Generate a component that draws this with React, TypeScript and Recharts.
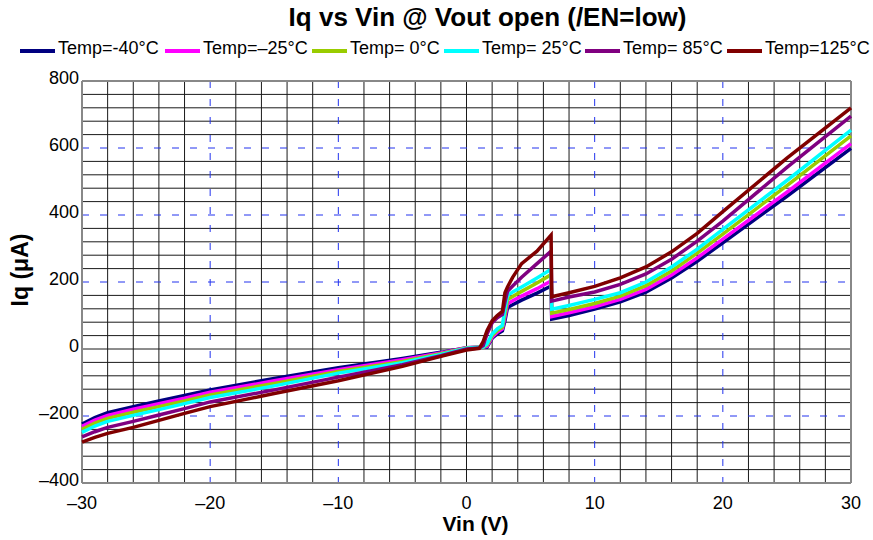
import React from "react";
import { LineChart, Line, XAxis, YAxis, CartesianGrid } from "recharts";

// Vin (V) sample points, shared by every curve
const vin = [
  -30, -29, -28, -26, -24, -22, -20, -15, -10, -5, -2, 0, 1, 1.3, 1.6, 2.0, 2.4,
  2.8, 3.0, 3.2, 3.6, 4.3, 5.5, 6.6, 6.65, 8, 10, 12, 14, 16, 18, 20, 25, 30,
];

// Iq (uA) per temperature
const iqM40 = [
  -224, -205, -190, -172, -155, -139, -122, -88, -56, -28, -10, 4, 5, 5, 6, 32, 45,
  54, 85, 124, 132, 146, 167, 188, 89, 100, 119, 141, 170, 212, 262, 317, 456, 599,
];
const iqM25 = [
  -231, -212, -198, -180, -163, -147, -129, -95, -62, -32, -12, 4, 5, 5, 8, 35, 50,
  60, 95, 135, 144, 158, 180, 203, 97, 108, 126, 148, 178, 221, 272, 328, 468, 613,
];
const iq0 = [
  -240, -221, -207, -189, -172, -155, -137, -103, -67, -37, -14, 3, 5, 5, 12, 40, 55,
  65, 105, 148, 157, 172, 197, 222, 107, 118, 136, 158, 189, 233, 286, 343, 488, 636,
];
const iq25 = [
  -249, -230, -216, -198, -181, -163, -145, -110, -72, -41, -16, 2, 5, 6, 15, 45, 60,
  70, 120, 160, 170, 185, 212, 238, 119, 130, 148, 168, 200, 245, 298, 357, 503, 653,
];
const iq85 = [
  -262, -247, -234, -216, -197, -178, -158, -122, -84, -47, -20, 0, 3, 10, 45, 78, 93,
  103, 140, 172, 188, 214, 255, 292, 143, 155, 170, 193, 224, 268, 322, 382, 542, 695,
];
const iq125 = [
  -278, -264, -252, -234, -213, -192, -172, -133, -95, -52, -22, -3, 2, 22, 55, 84, 100,
  112, 168, 185, 214, 255, 292, 340, 156, 168, 187, 212, 245, 290, 345, 410, 570, 720,
];

const xTicks = [-30, -20, -10, 0, 10, 20, 30];
const yTicks = [-400, -200, 0, 200, 400, 600, 800];

const series = [
  { key: "m40", label: "Temp=-40°C", color: "#000080", values: iqM40, left: 20 },
  { key: "m25", label: "Temp=\u201325°C", color: "#ff00ff", values: iqM25, left: 165 },
  { key: "t0", label: "Temp= 0°C", color: "#99cc00", values: iq0, left: 312 },
  { key: "t25", label: "Temp= 25°C", color: "#00ffff", values: iq25, left: 444 },
  { key: "t85", label: "Temp= 85°C", color: "#800080", values: iq85, left: 585 },
  { key: "t125", label: "Temp=125°C", color: "#800000", values: iq125, left: 727 },
];

const data = vin.map((v, i) => {
  const row: Record<string, number> = { vin: v };
  series.forEach((s) => {
    row[s.key] = s.values[i];
  });
  return row;
});

const FONT = '"Liberation Sans", Arial, Helvetica, sans-serif';
const X_MIN = -30, X_MAX = 30, Y_MIN = -400, Y_MAX = 800;

const fmt = (v: number) => (v < 0 ? "\u2013" + Math.abs(v) : String(v));

// grid line values
const minorX: number[] = [];
for (let v = -28; v <= 28; v += 2) if (v % 10 !== 0 || v === 0) minorX.push(v);
const minorY: number[] = [];
for (let v = -360; v <= 760; v += 40) if (v % 200 !== 0 || v === 0) minorY.push(v);
const majorX = [-20, -10, 10, 20];
const majorY = [-200, 200, 400, 600];

const toX = (o: any, v: number) => o.left + (o.width * (v - X_MIN)) / (X_MAX - X_MIN);
const toY = (o: any, v: number) => o.top + (o.height * (Y_MAX - v)) / (Y_MAX - Y_MIN);

const XTick = (props: any) => (
  <text x={props.x} y={props.y + 24} textAnchor="middle" fontSize={18} fontFamily={FONT} fill="#000">
    {fmt(props.payload.value)}
  </text>
);

const YTick = (props: any) => (
  <text x={79} y={props.y + 3} textAnchor="end" fontSize={18} fontFamily={FONT} fill="#000">
    {fmt(props.payload.value)}
  </text>
);

export default function App() {
  return (
    <div style={{ position: "absolute", left: 0, top: 0, width: 873, height: 540, background: "#fff", fontFamily: FONT }}>
      <div style={{ position: "absolute", left: 0, width: 873, top: 2, textAlign: "center", paddingLeft: 102, boxSizing: "border-box", fontSize: 26, fontWeight: "bold" }}>
        Iq vs Vin @ Vout open (/EN=low)
      </div>
      {series.map((s) => (
        <div key={s.key} style={{ position: "absolute", left: s.left, top: 38, display: "flex", alignItems: "center", fontSize: 18, whiteSpace: "nowrap" }}>
          <span style={{ display: "inline-block", width: 35, height: 4, background: s.color, marginRight: 3, marginTop: 5 }} />
          <span>{s.label}</span>
        </div>
      ))}
      <div style={{ position: "absolute", left: 0, width: 873, top: 512, textAlign: "center", paddingLeft: 78, boxSizing: "border-box", fontSize: 21, fontWeight: "bold" }}>
        Vin (V)
      </div>
      <div style={{ position: "absolute", left: 20, top: 270, transform: "translate(-50%, -50%) rotate(-90deg)", fontSize: 23, fontWeight: "bold", whiteSpace: "nowrap" }}>
        Iq (μA)
      </div>
      <div style={{ position: "absolute", left: 0, top: 0 }}>
        <LineChart width={873} height={540} data={data} margin={{ top: 81, right: 22, bottom: 17, left: 0 }}>
          <CartesianGrid
            stroke="#1a1a1a"
            strokeWidth={1}
            horizontalCoordinatesGenerator={({ offset }: any) => minorY.map((v) => toY(offset, v))}
            verticalCoordinatesGenerator={({ offset }: any) => minorX.map((v) => toX(offset, v))}
          />
          <CartesianGrid
            stroke="#2233ee"
            strokeWidth={1}
            strokeDasharray="7 11"
            horizontalCoordinatesGenerator={({ offset }: any) => majorY.map((v) => toY(offset, v))}
            verticalCoordinatesGenerator={({ offset }: any) => majorX.map((v) => toX(offset, v))}
          />
          <CartesianGrid
            stroke="#888"
            strokeWidth={2}
            horizontalCoordinatesGenerator={({ offset }: any) => [toY(offset, Y_MAX), toY(offset, Y_MIN)]}
            verticalCoordinatesGenerator={({ offset }: any) => [toX(offset, X_MIN), toX(offset, X_MAX)]}
          />
          <XAxis
            dataKey="vin"
            type="number"
            domain={[X_MIN, X_MAX]}
            ticks={xTicks}
            height={40}
            axisLine={false}
            tickLine={false}
            tickSize={0}
            tick={<XTick />}
            interval={0}
          />
          <YAxis
            type="number"
            domain={[Y_MIN, Y_MAX]}
            ticks={yTicks}
            width={82}
            axisLine={false}
            tickLine={false}
            tickSize={0}
            tick={<YTick />}
            interval={0}
          />
          {series.map((s) => (
            <Line
              key={s.key}
              dataKey={s.key}
              type="linear"
              stroke={s.color}
              strokeWidth={3.5}
              dot={false}
              isAnimationActive={false}
            />
          ))}
        </LineChart>
      </div>
    </div>
  );
}
